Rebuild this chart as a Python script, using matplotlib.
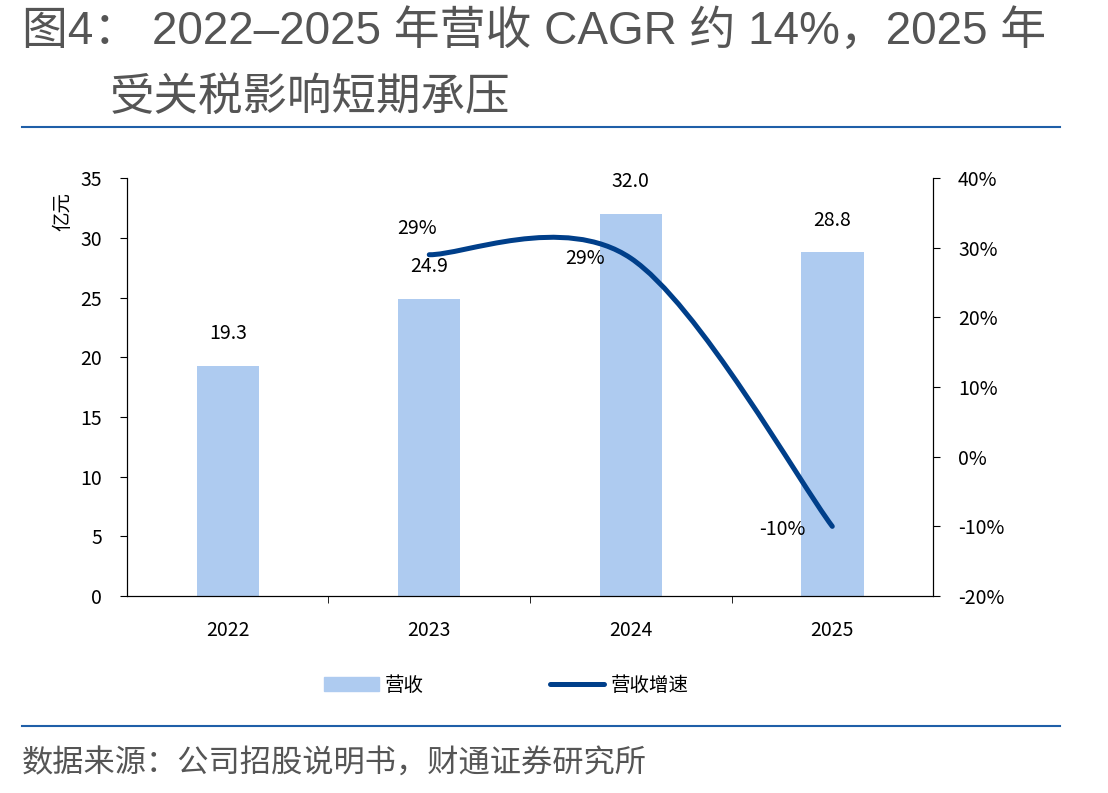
import numpy as np
import matplotlib
matplotlib.use("Agg")
import matplotlib.pyplot as plt
from matplotlib.path import Path
from matplotlib.patches import PathPatch, Patch
from matplotlib.lines import Line2D

plt.rcParams['font.family'] = ['Noto Sans CJK SC', 'DejaVu Sans']

# data
years = ['2022', '2023', '2024', '2025']
revenue = [19.3, 24.9, 32.0, 28.8]          # 亿元
growth_years = [1, 2, 3]                      # index of 2023..2025
growth = [29, 28.5, -10]                      # %
growth_labels = ['29%', '29%', '-10%']

bar_color = '#aecbf0'
line_color = '#003f8a'
gray = '#555555'

fig = plt.figure(figsize=(11.08, 7.93), dpi=100)
ax = fig.add_axes([0.1146, 0.2484, 0.7275, 0.527])
ax2 = ax.twinx()

x = np.arange(len(years))
ax.bar(x, revenue, width=0.31, color=bar_color, zorder=2)
for xi, v in zip(x, revenue):
    ax.annotate(f'{v:.1f}', (xi, v), xytext=(0, 23), textcoords='offset points',
                ha='center', va='center', fontsize=14)

ax.set_xlim(-0.5, 3.5)
ax.set_ylim(0, 35)
ax.set_yticks(range(0, 36, 5))
ax.set_xticks(x)
ax.set_xticklabels(years)
ax.set_xticks([0.5, 1.5, 2.5], minor=True)
ax.tick_params(axis='x', which='major', length=0, pad=17, labelsize=14)
ax.tick_params(axis='x', which='minor', length=5, direction='out')
ax.tick_params(axis='y', length=5, direction='out', labelsize=14, pad=13)
ax.spines['top'].set_visible(False)
ax.text(-0.08, 0.92, '亿元', transform=ax.transAxes, rotation=90,
        ha='center', va='center', fontsize=14)

# smooth line (Excel-style bezier through data points)
px = np.array(growth_years, dtype=float)
py = np.array(growth, dtype=float)
n = len(px)
verts = [(px[0], py[0])]
codes = [Path.MOVETO]
for i in range(n - 1):
    im1 = max(i - 1, 0)
    ip2 = min(i + 2, n - 1)
    b1 = (px[i] + (px[i + 1] - px[im1]) / 6, py[i] + (py[i + 1] - py[im1]) / 6)
    b2 = (px[i + 1] - (px[ip2] - px[i]) / 6, py[i + 1] - (py[ip2] - py[i]) / 6)
    verts += [b1, b2, (px[i + 1], py[i + 1])]
    codes += [Path.CURVE4] * 3
ax2.add_patch(PathPatch(Path(verts, codes), fill=False, edgecolor=line_color,
                        lw=3.6, capstyle='round', zorder=3))
ax2.set_ylim(-20, 40)
ax2.set_yticks(range(-20, 41, 10))
ax2.set_yticklabels([f'{t}%' for t in range(-20, 41, 10)])
ax2.tick_params(axis='y', length=5, direction='out', labelsize=14, pad=13)
ax2.spines['top'].set_visible(False)

offsets = [(-9, 19), (-33, 0), (-36, -2)]
for xi, v, lab, off in zip(growth_years, growth, growth_labels, offsets):
    ax2.annotate(lab, (xi, v), xytext=off, textcoords='offset points',
                 ha='center', va='center', fontsize=14)

# legend
handles = [Patch(color=bar_color), Line2D([0], [0], color=line_color, lw=3.6,
                                           solid_capstyle='round')]
fig.legend(handles, ['营收', '营收增速'], loc='center', bbox_to_anchor=(0.457, 0.136),
           ncol=2, frameon=False, fontsize=14, columnspacing=6.5, handlelength=2.8,
           handletextpad=0.3)

# title and footer
title_font = ['Liberation Sans', 'Noto Sans CJK SC']
fig.text(0.02, 0.96, '图4： 2022–2025 年营收 CAGR 约 14%，2025 年', fontsize=33,
         color=gray, weight='medium', va='center', ha='left', family=title_font)
fig.text(0.099, 0.876, '受关税影响短期承压', fontsize=32, color=gray, weight='medium',
         va='center', ha='left', family=title_font)
fig.add_artist(Line2D([0.02, 0.957], [0.84, 0.84], color='#1f5fa8', lw=1.5))
fig.add_artist(Line2D([0.02, 0.957], [0.084, 0.084], color='#1f5fa8', lw=1.5))
fig.text(0.02, 0.037, '数据来源：公司招股说明书，财通证券研究所', fontsize=22.5,
         color=gray, va='center', ha='left')

fig.savefig('out.png', dpi=100)
